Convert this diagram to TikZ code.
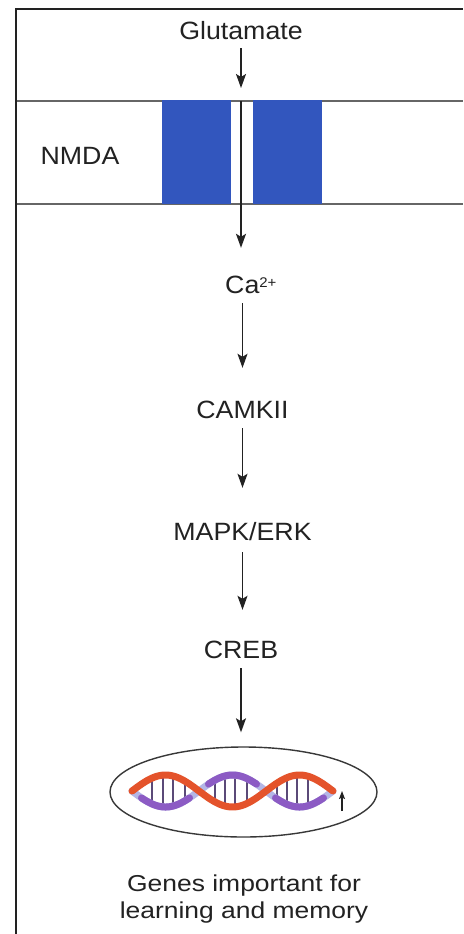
\documentclass[tikz,border=0pt]{standalone}
\usepackage{fontspec}
\usetikzlibrary{arrows.meta,shapes.geometric}
\newfontfamily\lblfont{Liberation Sans}[FakeStretch=1.07]
\newfontfamily\capfont{Liberation Sans}[FakeStretch=1.15]
\definecolor{ink}{HTML}{222222}
\definecolor{memline}{HTML}{666666}
\definecolor{chan}{RGB}{50,86,190}
\definecolor{strandA}{HTML}{E4532B}
\definecolor{strandB}{HTML}{8C5BC4}
\definecolor{strandBack}{HTML}{B4B6E6}
\definecolor{rungc}{HTML}{5B4A78}
% helix phase in degrees per pt along the axis
\def\hph{2.686567}
\tikzset{
  lbl/.style={inner sep=0pt, text height=18pt, text depth=5pt, text=ink,
    font=\lblfont\fontsize{25}{29}\selectfont},
  arr/.style={draw=ink, line width=1.4pt,
    -{Stealth[length=14pt,width=10pt,inset=3pt]},
    shorten <=5pt, shorten >=32pt},
  arrsmall/.style={draw=ink, line width=1.1pt,
    -{Stealth[length=8pt,width=6pt,inset=1.5pt]}},
  membrane/.style={draw=memline, line width=1.5pt},
  channel/.style={fill=chan, draw=none},
  frameline/.style={draw=ink, line width=2pt},
  nucleus/.style={draw=ink!90, line width=1.4pt, ellipse, inner sep=0pt,
    minimum width=267pt, minimum height=90pt},
  rung/.style={draw=rungc, line width=1.8pt}
}
\begin{document}
\begin{tikzpicture}[x=1pt, y=-1pt]
\useasboundingbox (0,0) rectangle (463,934);
\fill[white] (0,0) rectangle (463,934);

% outer frame (top and left edges)
\draw[frameline] (15.5,934) -- (15.5,9.5) -- (463,9.5);

% cell membrane with the NMDA receptor channel
\draw[membrane] (17,101) -- (463,101);
\draw[membrane] (17,204) -- (463,204);
\fill[channel] (162,100) rectangle (231,204);
\fill[channel] (253,100) rectangle (322,204);

% labels
\node[lbl, anchor=base] (glu) at (241,40) {Glutamate};
\node[lbl, anchor=base] (nmda) at (80,164) {NMDA};
\node[lbl, anchor=base west] (ca) at (225,293)
  {Ca\raisebox{6pt}{\fontsize{14}{14}\selectfont 2+}};
\node[lbl, anchor=base] (camk) at (242.5,418) {CAMKII};
\node[lbl, anchor=base] (mapk) at (242.5,540) {MAPK/ERK};
\node[lbl, anchor=base] (creb) at (241,658) {CREB};
\node[inner sep=0pt, align=center, text=ink,
  font=\capfont\fontsize{23}{27}\selectfont] (genes) at (244,899)
  {Genes important for\\learning and memory};

% nucleus
\node[nucleus] (nuc) at (243.5,792) {};

% signalling cascade
\coordinate (gend) at (241,88);
\coordinate (chin) at (241,101);
\draw[arr, shorten <=3pt, shorten >=0pt] (glu.south -| gend) -- (gend);
\draw[arr, shorten <=0pt, shorten >=27pt] (chin) -- (chin |- ca.north);
\draw[arr] (ca.south -| camk.north) -- (camk.north);
\draw[arr, shorten >=34pt] (camk.south) -- (mapk.north);
\draw[arr, shorten <=7pt, shorten >=30pt] (mapk.south) -- (mapk.south |- creb.north);
\draw[arr, shorten >=14pt] (creb.south) -- (creb.south |- nuc.north);

% DNA double helix
\foreach \r in {152,163,173,185,215,225,235,247,277,287,297,308}
  \draw[rung] (\r,{791-14*sin(\hph*(\r-132))}) -- (\r,{791+14*sin(\hph*(\r-132))});
\draw[strandBack, line width=7pt, line cap=round]
  plot[domain=132:333, samples=120] (\x,{791+16*sin(\hph*(\x-132))});
\foreach \c in {165.5,232.5,299.5}
  \draw[strandB, line width=7pt, line cap=round]
    plot[domain=\c-24:\c+24, samples=40] (\x,{791+16*sin(\hph*(\x-132))});
\draw[strandA, line width=7pt, line cap=round]
  plot[domain=132:333, samples=120] (\x,{791-16*sin(\hph*(\x-132))});

% expression increase marker
\coordinate (upA) at (342,811);
\coordinate (upB) at (342,791);
\draw[arrsmall] (upA) -- (upB);
\end{tikzpicture}
\end{document}
